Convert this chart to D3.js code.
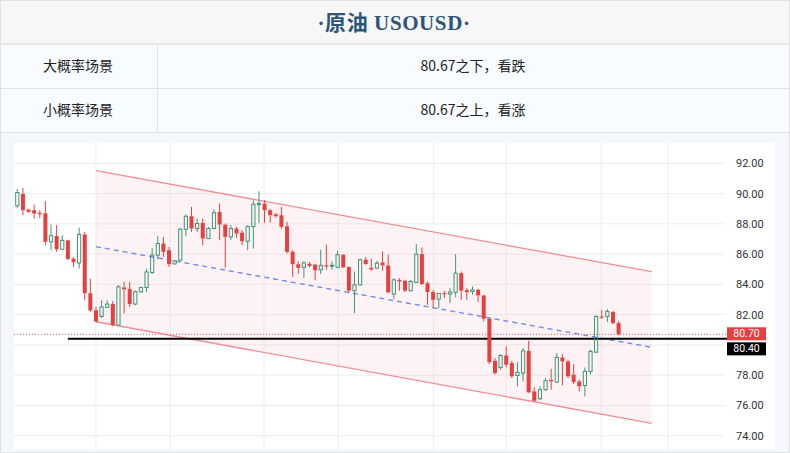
<!DOCTYPE html>
<html><head><meta charset="utf-8">
<script src="https://cdn.jsdelivr.net/npm/d3@7"></script>
<style>body{margin:0;background:#fff}svg{display:block}</style>
</head><body>
<svg id="c" width="790" height="453"></svg>
<script>
// ---- data ----
const titleText = "·原油  USOUSD·";
const rowLabels = ["大概率场景", "小概率场景"];
const rowValues = ["80.67之下，看跌", "80.67之上，看涨"];
const yTicks = [74, 76, 78, 80, 82, 84, 86, 88, 90, 92];
const hiddenTickLabel = 80; // covered by the price tags
const openP = [89.19,89.98,88.94,88.90,88.72,88.70,86.81,87.20,86.32,86.91,85.70,85.42,87.30,83.42,82.29,81.88,82.48,82.70,81.31,83.80,83.69,82.70,83.50,83.79,84.78,85.93,86.70,86.26,85.35,85.60,87.64,88.50,87.69,88.06,87.03,87.69,88.79,87.95,87.14,87.69,87.42,86.85,87.82,89.30,89.34,88.90,88.63,88.57,87.84,86.15,85.33,85.13,85.37,85.31,84.96,85.26,85.23,85.12,85.96,85.14,83.58,83.97,85.63,85.10,85.07,85.45,85.25,83.36,84.30,84.24,83.58,84.13,86.00,84.08,83.49,83.03,83.42,83.36,83.47,84.74,83.62,83.53,83.64,83.27,81.73,78.95,78.51,79.30,78.80,77.98,78.14,79.61,76.93,76.44,77.04,77.70,77.54,79.17,78.91,78.03,77.59,77.32,78.25,79.52,81.88,81.88,82.17,81.44];
const highP = [90.29,90.37,89.00,89.27,88.90,89.49,87.95,87.92,87.25,86.95,85.81,87.75,87.47,84.38,82.51,82.95,82.95,82.90,83.96,84.17,84.16,83.60,83.83,85.04,86.40,87.18,87.14,86.48,85.62,87.73,88.61,89.12,88.35,88.35,87.80,88.96,89.34,88.02,87.91,87.80,87.58,87.91,89.56,90.15,89.56,89.00,88.72,89.12,88.13,86.26,85.53,85.53,85.48,85.37,86.29,86.62,85.52,86.22,86.00,85.19,84.85,85.69,85.80,85.70,85.56,86.18,85.96,84.41,84.41,84.30,84.30,86.66,86.44,84.19,83.64,83.42,83.58,83.75,86.00,84.85,83.75,83.86,83.71,83.31,81.81,79.13,79.39,79.90,78.95,78.86,79.79,80.27,77.19,77.26,77.81,78.42,79.46,79.39,79.02,78.73,77.70,78.51,79.68,81.95,82.32,82.37,82.26,81.59];
const lowP = [89.06,88.57,88.74,88.35,88.39,86.59,86.26,86.15,86.26,85.60,85.15,85.05,82.95,82.18,81.48,81.78,82.44,81.22,81.31,82.07,82.51,82.62,83.46,83.50,84.71,85.66,85.81,85.15,85.31,85.57,87.20,87.47,87.47,86.59,86.98,87.64,86.92,85.09,86.92,87.07,86.59,86.26,86.37,88.06,88.06,88.08,88.41,87.69,86.04,84.49,84.71,84.43,85.11,84.27,84.68,84.96,84.96,85.07,85.07,83.42,82.10,83.93,85.30,84.90,85.03,84.90,83.42,83.03,83.58,83.49,83.53,84.08,83.97,82.65,82.43,82.43,83.10,82.76,83.14,82.98,82.98,83.31,82.83,81.55,78.73,78.03,78.36,78.51,77.81,77.26,77.59,76.81,76.26,76.37,76.97,77.04,77.48,77.32,77.81,77.41,76.93,76.59,78.03,79.46,81.73,81.51,81.37,80.62];
const closeP = [90.07,88.90,88.79,88.68,88.68,86.81,87.22,86.32,86.91,85.68,85.45,87.30,83.41,82.27,81.55,82.51,82.70,81.31,83.84,83.67,82.70,83.52,83.79,84.82,85.93,86.70,86.15,85.33,85.55,87.64,88.50,87.69,88.02,87.03,87.69,88.74,87.95,87.14,87.69,87.36,86.85,87.82,89.30,89.34,88.90,88.57,88.50,87.80,86.15,85.33,85.09,85.42,85.22,84.93,85.25,85.23,85.26,85.96,85.12,83.58,83.97,85.63,85.34,84.98,85.40,85.25,83.47,84.30,84.19,83.58,84.19,86.00,84.02,83.49,82.98,83.40,83.36,83.49,84.74,83.58,83.49,83.64,83.27,81.73,78.86,78.14,79.30,78.69,77.92,78.18,79.61,76.86,76.31,77.04,77.63,77.59,79.17,78.91,77.92,77.54,77.26,78.25,79.57,81.88,81.82,82.21,81.44,80.70];
// channel (bar index, price)
const upperLine = [[14, 91.51], [112.9, 84.84]];
const lowerLine = [[14, 81.53], [112.9, 74.82]];
const midLine = [[14, 86.49], [112.9, 79.84]];
const timeGrid = [14, 27.2, 43.9, 57.1, 74.1, 87, 103.9, 115.8];
const lastPrice = 80.70;
const keyLevel = 80.40;
const keyLevelStart = 9;

// ---- layout ----
const svg = d3.select("#c");
const W = 790;
const borderC = "#e2e2e2";

// table
svg.append("rect").attr("x",0.5).attr("y",0.5).attr("width",W-1).attr("height",43.5).attr("fill","#f7f7f7").attr("stroke",borderC);
svg.append("text").attr("x",394).attr("y",30).attr("text-anchor","middle")
  .attr("font-family","'Liberation Serif','DejaVu Serif','Noto Sans CJK SC',serif").attr("font-weight","bold")
  .attr("font-size",21).attr("letter-spacing",0.6).attr("fill","#2c5577").text(titleText);
rowLabels.forEach((lab,i)=>{
  const y0 = 44 + i*44;
  svg.append("rect").attr("x",0.5).attr("y",y0+0.5).attr("width",W-1).attr("height",44).attr("fill","#f8fbff").attr("stroke",borderC);
  svg.append("line").attr("x1",157.5).attr("x2",157.5).attr("y1",y0).attr("y2",y0+44).attr("stroke",borderC);
  svg.append("text").attr("x",78).attr("y",y0+27).attr("text-anchor","middle")
    .attr("font-family","'Noto Sans CJK SC',sans-serif").attr("font-size",14).attr("fill","#222").text(lab);
  svg.append("text").attr("x",473).attr("y",y0+27).attr("text-anchor","middle")
    .attr("font-family","'Noto Sans CJK SC',sans-serif").attr("font-size",14).attr("fill","#222").text(rowValues[i]);
});
// chart background
svg.append("rect").attr("x",0.5).attr("y",132.5).attr("width",W-1).attr("height",320).attr("fill","#f4f7fc").attr("stroke",borderC);
svg.append("rect").attr("x",14).attr("y",143).attr("width",761).attr("height",306).attr("fill","#ffffff");

// scales
const x = d3.scaleLinear().domain([0, 107]).range([17.3, 618.6]);
const y = d3.scaleLinear().domain([74, 92]).range([435.7, 163.3]);
const plotL = 14, plotR = 725, plotT = 143, plotB = 449;

// grid
const g = svg.append("g");
g.selectAll(".hg").data(yTicks).join("line")
  .attr("x1",plotL).attr("x2",plotR).attr("y1",d=>y(d)).attr("y2",d=>y(d))
  .attr("stroke","#ededed").attr("stroke-width",1);
g.selectAll(".vg").data(timeGrid).join("line")
  .attr("x1",d=>x(d)).attr("x2",d=>x(d)).attr("y1",plotT).attr("y2",plotB)
  .attr("stroke","#ededed").attr("stroke-width",1);

// y axis labels (the 80.00 label is hidden behind the price tags)
const yAxis = d3.axisRight(y).tickValues(yTicks.filter(v => v !== hiddenTickLabel))
  .tickFormat(d3.format(".2f")).tickSize(0).tickPadding(0);
const ax = svg.append("g").attr("transform",`translate(736,0)`).call(yAxis);
ax.select(".domain").remove();
ax.selectAll("text").attr("font-family","Roboto,'DejaVu Sans',sans-serif").attr("font-size",11).attr("fill","#333");

// channel
const line = d3.line().x(d=>x(d[0])).y(d=>y(d[1]));
const poly = upperLine.concat(lowerLine.slice().reverse());
svg.append("path").attr("d", line(poly)+"Z").attr("fill","rgba(245,160,170,0.13)");
svg.append("path").attr("d", line(upperLine)).attr("stroke","#ef8f95").attr("stroke-width",1.3).attr("fill","none");
svg.append("path").attr("d", line(lowerLine)).attr("stroke","#ef8f95").attr("stroke-width",1.3).attr("fill","none");
svg.append("path").attr("d", line(midLine)).attr("stroke","#6f8cf5").attr("stroke-width",1.4)
  .attr("stroke-dasharray","5,4").attr("fill","none");

// key level & last price line
svg.append("line").attr("x1",plotL).attr("x2",plotR+2).attr("y1",y(lastPrice)).attr("y2",y(lastPrice))
  .attr("stroke","#ee5a5f").attr("stroke-width",1).attr("stroke-dasharray","1,2");
svg.append("line").attr("x1",x(keyLevelStart)).attr("x2",plotR+2).attr("y1",y(keyLevel)).attr("y2",y(keyLevel))
  .attr("stroke","#000").attr("stroke-width",2);

// candles
const idx = d3.range(openP.length);
const up = "#3a9778", dn = "#e5403f";
const cg = svg.append("g");
idx.forEach(i=>{
  const o=openP[i], c=closeP[i], h=highP[i], l=lowP[i];
  const cx = x(i);
  const top = y(Math.max(o,c)), bot = y(Math.min(o,c));
  const isUp = c >= o;
  const col = isUp ? up : dn;
  cg.append("line").attr("x1",cx).attr("x2",cx).attr("y1",y(h)).attr("y2",top).attr("stroke",col).attr("stroke-width",1);
  cg.append("line").attr("x1",cx).attr("x2",cx).attr("y1",bot).attr("y2",y(l)).attr("stroke",col).attr("stroke-width",1);
  if (isUp) {
    cg.append("rect").attr("x",cx-1.6).attr("y",top).attr("width",3.2).attr("height",Math.max(1,bot-top))
      .attr("fill","none").attr("stroke",col).attr("stroke-width",1);
  } else {
    cg.append("rect").attr("x",cx-2).attr("y",top).attr("width",4).attr("height",Math.max(1.2,bot-top))
      .attr("fill",col);
  }
});

// price labels
const lab = [{v:lastPrice, c:"#e5403f", off:-0.5},{v:keyLevel, c:"#000", off:10}];
lab.forEach(d=>{
  const cy = y(d.v) + d.off;
  svg.append("rect").attr("x",727).attr("y",cy-6.5).attr("width",39).attr("height",13).attr("fill",d.c);
  svg.append("text").attr("x",746.5).attr("y",cy+3.6).attr("text-anchor","middle")
    .attr("font-family","Roboto,'DejaVu Sans',sans-serif").attr("font-size",10.5).attr("fill","#fff").text(d.v.toFixed(2));
});
</script>
</body></html>
